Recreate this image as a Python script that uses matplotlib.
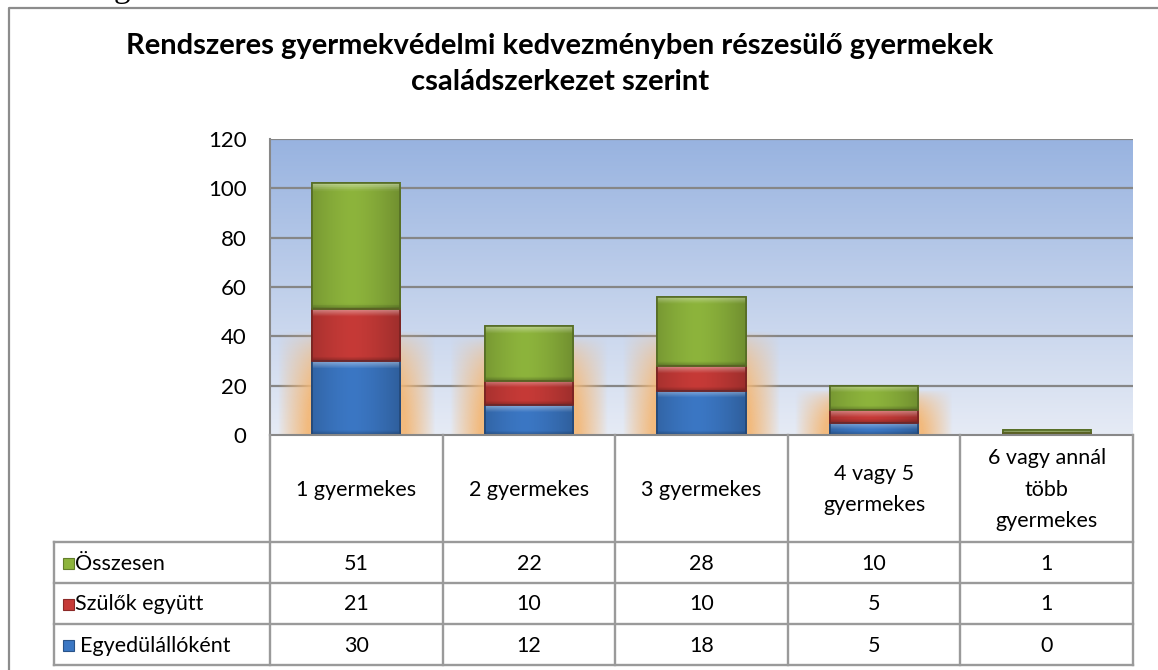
import numpy as np
import matplotlib
matplotlib.use("Agg")
import matplotlib.pyplot as plt
from matplotlib.patches import Rectangle
from matplotlib.colors import to_rgb

plt.rcParams['font.family'] = ['Lato', 'DejaVu Sans']

categories = ["1 gyermekes", "2 gyermekes", "3 gyermekes", "4 vagy 5\ngyermekes",
              "6 vagy annál\ntöbb\ngyermekes"]
egyedul = [30, 12, 18, 5, 0]
szulok = [21, 10, 10, 5, 1]
osszesen = [51, 22, 28, 10, 1]
series_names = ["Egyedülállóként", "Szülők együtt", "Összesen"]
series_vals = [egyedul, szulok, osszesen]
series_cols = ["#3b77c4", "#c63a37", "#8db43c"]
yticks = [0, 20, 40, 60, 80, 100, 120]
title = "Rendszeres gyermekvédelmi kedvezményben részesülő gyermekek\ncsaládszerkezet szerint"

W, H = 1158, 670
fig = plt.figure(figsize=(W / 100, H / 100), dpi=100)
fig.patch.set_facecolor("white")

FS = 15.5

# pixel geometry
PL, PR, PT, PB = 270, 1133, 139, 435
ax = fig.add_axes([PL / W, 1 - PB / H, (PR - PL) / W, (PB - PT) / H])
n = len(categories)
ax.set_xlim(-0.5, n - 0.5)
ax.set_ylim(0, 120)

# background gradient
top = np.array(to_rgb("#98b3e0"))
bot = np.array(to_rgb("#e6ebf5"))
t = np.linspace(0, 1, 256)[:, None]
grad = bot + (top - bot) * t
grad = np.repeat(grad[:, None, :], 2, axis=1)
ax.imshow(grad, extent=(-0.5, n - 0.5, 0, 120), origin="lower", aspect="auto", zorder=0)

# gridlines
for v in yticks[1:]:
    ax.axhline(v, color="#868686", lw=1.6, zorder=1)

x = np.arange(n)
totals = np.sum(series_vals, axis=0)
bw = 0.51

# orange glow behind bars
gx = np.linspace(-0.5, n - 0.5, 900)
gy = np.linspace(0, 120, 480)
GX, GY = np.meshgrid(gx, gy)
alpha = np.zeros_like(GX)
for i in range(n):
    gh = min(totals[i] * 0.9, 42)
    if gh < 5:
        continue
    dx = np.abs(GX - x[i])
    hx = np.clip(1 - (dx - bw / 2) / 0.2, 0, 1) ** 0.9
    hy = np.clip(1 - (GY / gh) ** 2, 0, 1) ** 0.7
    alpha = np.maximum(alpha, hx * hy)
glow = np.zeros(GX.shape + (4,))
glow[..., :3] = to_rgb("#f3b878")
glow[..., 3] = np.clip(alpha * 1.1, 0, 0.95)
ax.imshow(glow, extent=(-0.5, n - 0.5, 0, 120), origin="lower", aspect="auto", zorder=1.5)

# stacked bars with bevel shading
bottom = np.zeros(n)
for vals, col in zip(series_vals, series_cols):
    c = np.array(to_rgb(col))
    bars = ax.bar(x, vals, bw, bottom=bottom, color=col,
                  edgecolor=tuple(c * 0.6), linewidth=1.2, zorder=3)
    for b in bars:
        if b.get_height() <= 0:
            continue
        xs = np.linspace(0, 1, 64)
        shade = 1 - 0.25 * np.abs(xs - 0.45) ** 1.5 * 2
        img = np.clip(c[None, None, :] * shade[None, :, None], 0, 1)
        h = b.get_height()
        ys = np.linspace(0, 1, 64)[:, None, None]
        top_px = 7.0 / ((PB - PT) / 120) / h
        light = np.clip((ys - (1 - top_px)) / top_px, 0, 1)
        dark = np.clip((top_px * 0.6 - ys) / (top_px * 0.6), 0, 1)
        img = np.repeat(img, 64, axis=0)
        img = img + (1 - img) * 0.4 * light
        img = img * (1 - 0.25 * dark)
        im = ax.imshow(img, extent=(b.get_x(), b.get_x() + b.get_width(),
                                    b.get_y(), b.get_y() + h),
                       origin="lower", aspect="auto", zorder=3.5)
        im.set_clip_path(b)
        ax.add_patch(Rectangle((b.get_x(), b.get_y()), b.get_width(), h,
                               fill=False, edgecolor=tuple(c * 0.6), lw=1.2, zorder=4))
    bottom += np.array(vals)

ax.set_xticks([])
ax.set_yticks(yticks)
ax.set_yticklabels([str(v) for v in yticks], fontsize=16)
ax.tick_params(axis="y", length=0, pad=17)
for s in ["top", "right"]:
    ax.spines[s].set_visible(False)
ax.spines["left"].set_color("#888888")
ax.spines["left"].set_linewidth(1.5)
ax.spines["bottom"].set_color("#888888")
ax.spines["bottom"].set_linewidth(1.5)
ax.spines["bottom"].set_zorder(5)
ax.set_xlim(-0.5, n - 0.5)
ax.set_ylim(0, 120)

ov2 = fig.add_axes([0, 0, 1, 1], zorder=10)
ov2.set_xlim(0, W)
ov2.set_ylim(H, 0)
ov2.axis("off")
ov2.patch.set_alpha(0)

# outer frame
ov2.plot([9, 9, W + 5], [H + 5, 8, 8], color="#8c8c8c", lw=1.6)
# cut-off page text fragment above the frame
ov2.text(122, -3, "g", fontsize=24, family="Liberation Serif", ha="center", va="baseline", clip_on=False)

fig.text(560 / W, 1 - 64 / H, title, ha="center", va="center",
         fontsize=21, fontweight="bold", linespacing=1.5)

# table geometry from axes
col_edges = [ax.transData.transform((v, 0))[0] for v in np.arange(n + 1) - 0.5]
LEG_L = 54
row_y = [PB, 542, 583, 624, 665]
lc = "#9a9a9a"
lw = 1.7
for xe in col_edges:
    ov2.plot([xe, xe], [row_y[0], row_y[-1]], color=lc, lw=lw)
ov2.plot([LEG_L, LEG_L], [row_y[1], row_y[-1]], color=lc, lw=lw)
for yy in row_y[1:]:
    ov2.plot([LEG_L, col_edges[-1]], [yy, yy], color=lc, lw=lw)

for i, cat in enumerate(categories):
    cx = (col_edges[i] + col_edges[i + 1]) / 2
    ov2.text(cx, (row_y[0] + row_y[1]) / 2 + 1, cat, ha="center", va="center",
             fontsize=FS, linespacing=1.7)

row_series = [2, 1, 0]
for r, si in enumerate(row_series):
    cy = (row_y[r + 1] + row_y[r + 2]) / 2
    for i in range(n):
        cx = (col_edges[i] + col_edges[i + 1]) / 2
        ov2.text(cx, cy + 1, str(series_vals[si][i]), ha="center", va="center", fontsize=FS)
    c = np.array(to_rgb(series_cols[si]))
    ov2.add_patch(Rectangle((63, cy - 5), 11, 11, facecolor=c, edgecolor=tuple(c * 0.7), lw=0.8))
    off = 80 if si == 0 else 75
    ov2.text(off, cy + 1, series_names[si], ha="left", va="center", fontsize=FS)

fig.savefig("out.png", dpi=100)
